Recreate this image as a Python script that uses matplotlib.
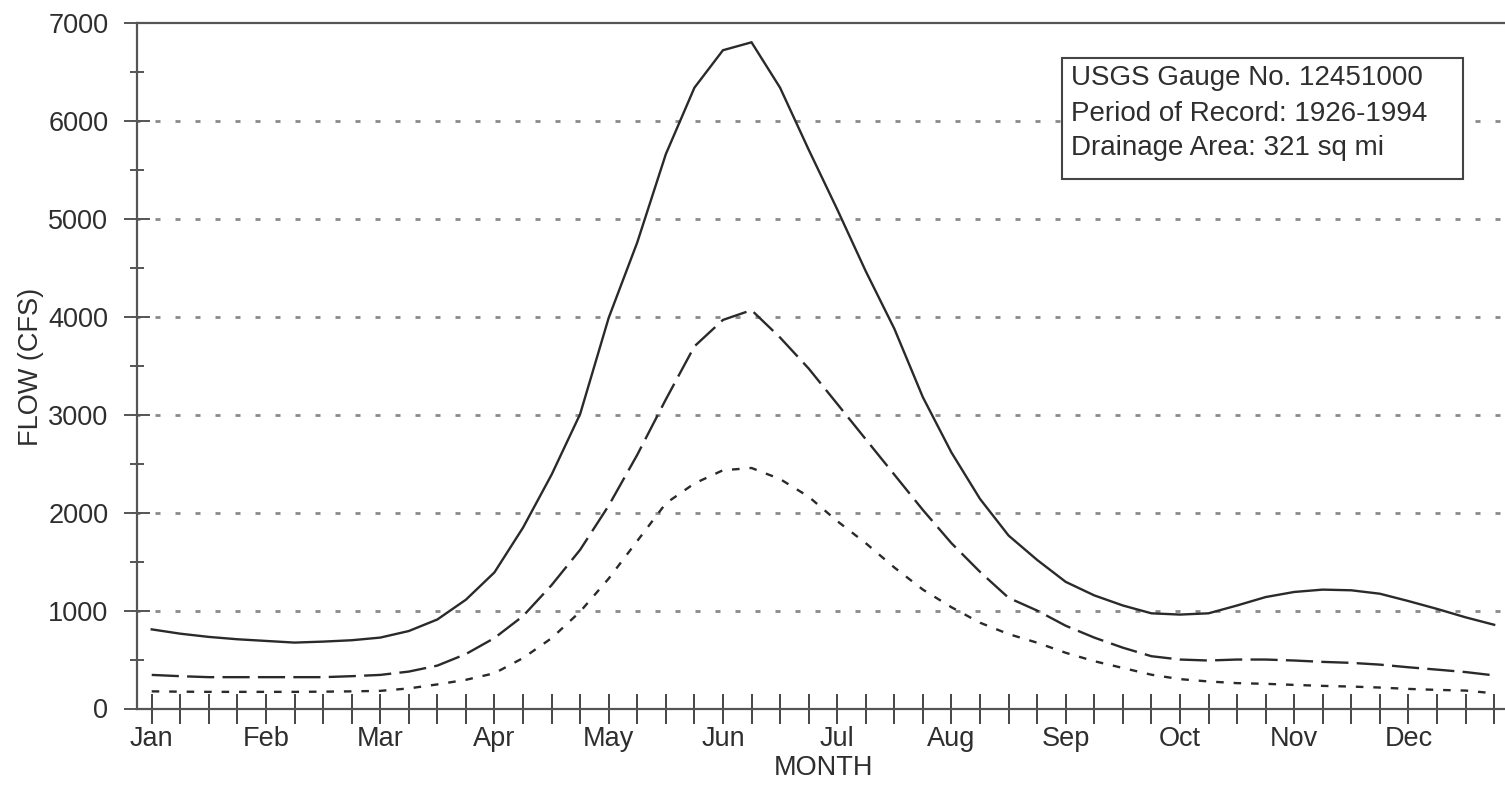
import matplotlib
matplotlib.use("Agg")
import matplotlib.pyplot as plt
from matplotlib.patches import Rectangle
import numpy as np

plt.rcParams['font.family'] = ['Liberation Sans', 'DejaVu Sans']

# ---- data (quarter-month steps, 48 points from Jan to end of Dec) ----
months = ["Jan", "Feb", "Mar", "Apr", "May", "Jun",
          "Jul", "Aug", "Sep", "Oct", "Nov", "Dec"]

flow_solid = [808, 764, 731, 707, 690, 673, 683, 697, 724, 791, 909, 1111, 1390,
              1847, 2388, 3007, 3990, 4760, 5661, 6339, 6722, 6803,
              6339, 5707, 5097, 4465, 3878, 3178, 2614, 2140, 1766,
              1517, 1293, 1155, 1052, 972, 959, 972, 1052, 1138, 1190, 1214,
              1207, 1172, 1097, 1017, 931, 855]

flow_dashed = [343, 330, 320, 320, 320, 320, 320, 330, 343, 377, 438, 556, 720,
               944, 1260, 1621, 2072, 2591, 3156, 3698, 3968, 4068,
               3788, 3472, 3111, 2749, 2388, 2027, 1688, 1395, 1130,
               1000, 845, 724, 621, 534, 500, 490, 500, 500, 490, 476,
               466, 448, 421, 397, 372, 338]

flow_dotted = [175, 172, 170, 170, 170, 170, 172, 175, 180, 205, 246, 293, 360,
               515, 718, 989, 1327, 1711, 2095, 2298, 2433, 2456,
               2343, 2163, 1914, 1688, 1440, 1214, 1034, 876, 760,
               672, 569, 483, 414, 345, 300, 276, 259, 252, 241, 231,
               224, 214, 200, 190, 183, 155]

y_major = [0, 1000, 2000, 3000, 4000, 5000, 6000, 7000]
y_minor = [500, 1500, 2500, 3500, 4500, 5500, 6500]
grid_levels = [1000, 2000, 3000, 4000, 5000, 6000]

info_lines = ["USGS Gauge No. 12451000",
              "Period of Record: 1926-1994",
              "Drainage Area: 321 sq mi"]

W, H = 1505, 785
fig = plt.figure(figsize=(W / 100, H / 100), dpi=100)
fig.patch.set_facecolor('white')

ax_left, ax_right = 137, 1505
ax_top, ax_bottom = 23, 708.5
ax = fig.add_axes([ax_left / W, 1 - ax_bottom / H,
                   (ax_right - ax_left) / W, (ax_bottom - ax_top) / H])

x = np.arange(len(flow_solid))
line_col = '#2a2a2a'
ax.plot(x, flow_solid, color=line_col, lw=1.7, solid_joinstyle='miter', zorder=3)
ax.plot(x, flow_dashed, color=line_col, lw=1.7, dashes=(11.5, 3.5), zorder=3)
ax.plot(x, flow_dotted, color=line_col, lw=1.7, dashes=(3.2, 4.2), zorder=3)

ax.hlines(grid_levels, -0.6, 48, colors='#8a8a8a', lw=2.0,
          linestyles=[(0, (1.8, 5.4))], zorder=1)

ax.set_xlim(-0.515, 47.38)
ax.set_ylim(0, 7000)

ax.set_xticks(x)
labels = ['' for _ in x]
for k, m in enumerate(months):
    labels[k * 4] = m
ax.set_xticklabels(labels)
ax.set_yticks(y_major)
ax.set_yticks(y_minor, minor=True)

txt_col = '#2e2e2e'
spine_col = '#555555'
ax.tick_params(axis='x', which='major', direction='inout', length=21.6, width=1.4,
               color='#444444', labelsize=19.5, labelcolor=txt_col, pad=2)
ax.tick_params(axis='y', which='major', direction='inout', length=19.4, width=1.4,
               color=spine_col, labelsize=19.5, labelcolor=txt_col, pad=11)
ax.tick_params(axis='y', which='minor', direction='inout', length=10, width=1.4,
               color=spine_col)

for s in ['left', 'bottom', 'top']:
    ax.spines[s].set_color(spine_col)
    ax.spines[s].set_linewidth(1.6)
ax.spines['right'].set_visible(False)

# axis titles
fig.text(31 / W, 1 - 367 / H, "FLOW (CFS)", rotation=90, ha='center', va='center',
         fontsize=19.5, color=txt_col)
fig.text(823 / W, 1 - 768 / H, "MONTH", ha='center', va='center',
         fontsize=19.5, color=txt_col)

# info box
bx0, bx1, by0, by1 = 1062, 1463, 58, 179
fig.patches.append(Rectangle((bx0 / W, 1 - by1 / H), (bx1 - bx0) / W, (by1 - by0) / H,
                             transform=fig.transFigure, fill=True, facecolor='white',
                             edgecolor='#444444', lw=1.5, zorder=5))
baselines = [85, 121, 155]
for line, b in zip(info_lines, baselines):
    fig.text(1071 / W, 1 - b / H, line, ha='left', va='baseline',
             fontsize=20, color=txt_col, zorder=6)

fig.savefig('out.png', dpi=100, facecolor='white')
